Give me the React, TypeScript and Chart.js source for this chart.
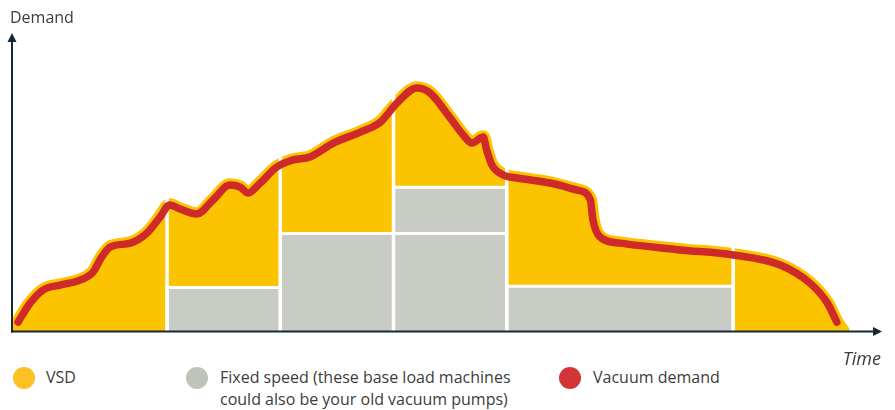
import React, { useEffect, useRef } from "react";
import { Chart, registerables } from "chart.js";

Chart.register(...registerables);

// Time axis runs 0..100, demand axis runs 0..100
const timePoints = [0.7, 2.1, 3.6, 5.5, 7.8, 9.3, 10.3, 11.3, 13.6, 15.5, 17.0, 18.1, 19.3, 21.2, 23.1, 25.0, 26.2, 27.1, 28.5, 30.4, 32.3, 34.2, 36.9, 40.0, 42.3, 44.2, 46.5, 48.0, 50.3, 51.8, 52.8, 54.1, 54.5, 55.1, 56.4, 58.0, 61.8, 64.9, 66.4, 66.7, 67.5, 69.8, 76.7, 82.8, 88.2, 91.6, 93.6, 94.7];
const vacuumDemand = [3.0, 9.5, 13.9, 15.5, 17.2, 19.9, 25.0, 28.4, 29.7, 33.1, 38.5, 42.6, 41.2, 39.5, 44.3, 49.3, 48.6, 46.6, 50.0, 55.4, 57.8, 58.8, 63.5, 67.2, 70.6, 77.0, 82.1, 80.4, 72.0, 66.2, 63.5, 65.5, 61.1, 56.1, 52.7, 51.7, 50.0, 47.6, 44.3, 37.5, 31.8, 29.7, 27.4, 25.7, 22.3, 16.2, 9.5, 3.0];

const vsdStart = 0.2;
const vsdEnd = 95.4;

// Machine switching points on the time axis
const segmentEdges = [17.8, 30.8, 43.8, 56.8, 82.8];

// Fixed speed (base load) blocks
const fixedFrom = [17.8, 30.8, 43.8, 43.8, 56.8];
const fixedTo = [30.8, 43.8, 56.8, 56.8, 82.8];
const fixedLow = [0, 0, 0, 32.9, 0];
const fixedHigh = [14.7, 32.9, 32.9, 48.6, 15.1];

const legendLabels = [
  ["VSD"],
  ["Fixed speed (these base load machines", "could also be your old vacuum pumps)"],
  ["Vacuum demand"],
];
const legendColors = ["#FDC125", "#BFC4BA", "#D23438"];

const YELLOW = "#FCC300";
const RED = "#CD2A29";
const GREY = "#C9CCC4";
const AXIS = "#13293A";
const TEXT = "#3c3c3c";

const axisArrows = {
  id: "axisArrows",
  afterDatasetsDraw(chart: any) {
    const { ctx, chartArea } = chart;
    const { left, right, top, bottom } = chartArea;
    ctx.save();
    ctx.strokeStyle = AXIS;
    ctx.fillStyle = AXIS;
    ctx.lineWidth = 2;
    const ax = left;
    const ay = bottom + 0.5;
    ctx.beginPath();
    ctx.moveTo(ax, ay + 1);
    ctx.lineTo(ax, top + 6);
    ctx.stroke();
    ctx.beginPath();
    ctx.moveTo(ax, top - 2);
    ctx.lineTo(ax - 4.5, top + 7);
    ctx.lineTo(ax + 4.5, top + 7);
    ctx.closePath();
    ctx.fill();
    ctx.beginPath();
    ctx.moveTo(ax - 1, ay);
    ctx.lineTo(right - 6, ay);
    ctx.stroke();
    ctx.beginPath();
    ctx.moveTo(right - 1, ay);
    ctx.lineTo(right - 10, ay - 4.5);
    ctx.lineTo(right - 10, ay + 4.5);
    ctx.closePath();
    ctx.fill();
    ctx.restore();
  },
};

export default function App() {
  const ref = useRef<HTMLCanvasElement | null>(null);

  useEffect(() => {
    if (!ref.current) return;
    const curve = timePoints.map((t, i) => ({ x: t, y: vacuumDemand[i] }));
    const vsdArea = [{ x: vsdStart, y: 0 }, ...curve, { x: vsdEnd, y: 0 }];

    const separators: any[] = [];
    segmentEdges.forEach((t) => {
      separators.push({ x: t, y: 0 }, { x: t, y: 100 }, { x: t, y: null });
    });

    const fixedSets = fixedFrom.map((f, i) => ({
      label: "Fixed speed",
      data: [
        { x: f, y: fixedLow[i] },
        { x: f, y: fixedHigh[i] },
        { x: fixedTo[i], y: fixedHigh[i] },
        { x: fixedTo[i], y: fixedLow[i] },
      ],
      borderColor: "#ffffff",
      backgroundColor: GREY,
      borderWidth: 3,
      fill: "shape",
      tension: 0,
      pointRadius: 0,
    }));

    const chart = new Chart(ref.current, {
      type: "line",
      data: {
        datasets: [
          {
            label: "Vacuum demand",
            data: curve,
            borderColor: RED,
            borderWidth: 7.5,
            borderCapStyle: "round",
            borderJoinStyle: "round",
            cubicInterpolationMode: "monotone",
            fill: false,
            pointRadius: 0,
          },
          {
            label: "separators",
            data: separators,
            borderColor: "#ffffff",
            borderWidth: 3.5,
            fill: false,
            spanGaps: false,
            pointRadius: 0,
            tension: 0,
          },
          ...fixedSets,
          {
            label: "VSD",
            data: vsdArea,
            borderColor: YELLOW,
            backgroundColor: YELLOW,
            borderWidth: 13.5,
            borderCapStyle: "round",
            borderJoinStyle: "round",
            cubicInterpolationMode: "monotone",
            fill: "origin",
            pointRadius: 0,
            clip: 0,
          },
        ] as any,
      },
      options: {
        animation: false,
        responsive: false,
        layout: { padding: { left: 12, right: 12, top: 35, bottom: 19 } },
        scales: {
          x: { type: "linear", min: 0, max: 100, display: false },
          y: { min: 0, max: 100, display: false },
        },
        plugins: {
          legend: { display: false },
          tooltip: { enabled: false },
          title: { display: false },
        },
        events: [],
      } as any,
      plugins: [axisArrows],
    });
    return () => chart.destroy();
  }, []);

  const legendX = [{ dot: 23.5, text: 46 }, { dot: 197, text: 220 }, { dot: 570, text: 593 }];

  return (
    <div
      style={{
        position: "absolute",
        left: 0,
        top: 0,
        width: 895,
        height: 410,
        fontFamily: '"Open Sans", sans-serif',
        color: TEXT,
        background: "#ffffff",
      }}
    >
      <canvas
        ref={ref}
        width={895}
        height={350}
        style={{ position: "absolute", left: 0, top: 0, width: 895, height: 350 }}
      />
      <div style={{ position: "absolute", left: 10, top: 6, fontSize: 16, lineHeight: "22px", whiteSpace: "nowrap" }}>
        Demand
      </div>
      <div
        style={{
          position: "absolute",
          right: 14,
          top: 346,
          fontSize: 18,
          lineHeight: "24px",
          fontStyle: "italic",
          whiteSpace: "nowrap",
        }}
      >
        Time
      </div>
      {legendLabels.map((lines, i) => (
        <React.Fragment key={i}>
          <div
            style={{
              position: "absolute",
              left: legendX[i].dot - 11,
              top: 367,
              width: 22,
              height: 22,
              borderRadius: "50%",
              background: legendColors[i],
            }}
          />
          <div
            style={{
              position: "absolute",
              left: legendX[i].text,
              top: 366,
              fontSize: 16,
              lineHeight: "22px",
              whiteSpace: "nowrap",
            }}
          >
            {lines.map((l, j) => (
              <div key={j}>{l}</div>
            ))}
          </div>
        </React.Fragment>
      ))}
    </div>
  );
}
